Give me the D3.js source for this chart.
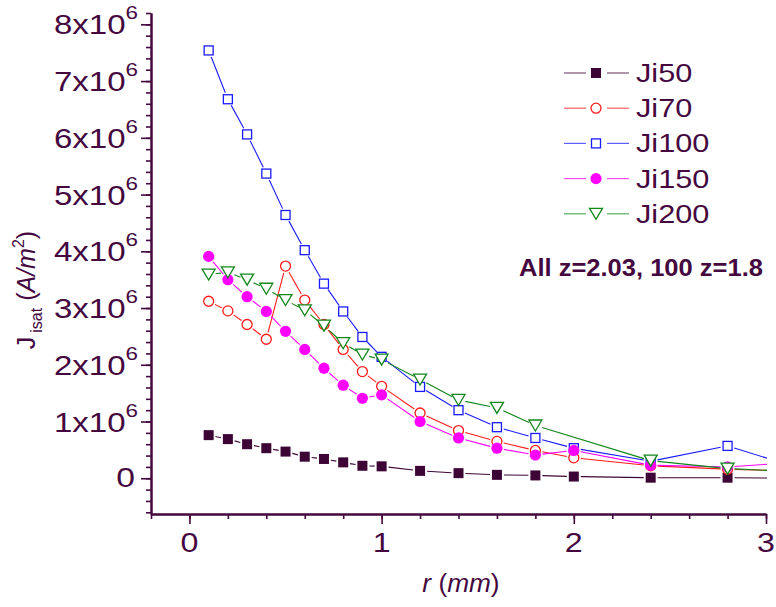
<!DOCTYPE html>
<html><head><meta charset="utf-8">
<script src="https://cdn.jsdelivr.net/npm/d3@7"></script>
<style>
html,body{margin:0;padding:0;background:#fff;}
svg{display:block;}
text{font-family:"Liberation Sans",Arial,sans-serif;fill:#44083f;}
</style></head>
<body>
<script>
// ---- data (J in units of 1e6 A/m^2, r in mm) ----
const rMain = [0.1,0.2,0.3,0.4,0.5,0.6,0.7,0.8,0.9,1.0,1.2,1.4,1.6,1.8,2.0,2.4,2.8,3.2];
const r200  = [0.1,0.2,0.3,0.4,0.5,0.6,0.7,0.8,0.9,1.0,1.2,1.4,1.6,1.8,2.4,2.8,3.2];
const ji50  = [0.76,0.69,0.60,0.53,0.47,0.38,0.34,0.28,0.22,0.21,0.13,0.09,0.06,0.05,0.03,0.01,0.01,0.00];
const ji70  = [3.12,2.95,2.71,2.45,3.74,3.14,2.71,2.27,1.88,1.62,1.15,0.84,0.65,0.49,0.36,0.22,0.16,0.12];
const ji100 = [7.54,6.68,6.06,5.37,4.64,4.02,3.43,2.94,2.49,2.14,1.61,1.20,0.90,0.71,0.53,0.30,0.57,0.15];
const ji150 = [3.91,3.50,3.20,2.94,2.59,2.27,1.94,1.64,1.41,1.47,1.00,0.71,0.53,0.41,0.49,0.23,0.20,0.29];
const ji200 = [3.59,3.63,3.50,3.34,3.14,2.96,2.69,2.38,2.18,2.09,1.74,1.38,1.24,0.93,0.31,0.17,0.11];
const seriesNames = ["Ji50","Ji70","Ji100","Ji150","Ji200"];
const xTickLabels = ["0","1","2","3"];
const yTickMantissa = ["0","1","2","3","4","5","6","7","8"];
const annotation = "All z=2.03, 100 z=1.8";

const series = [
  {name:seriesNames[0], r:rMain, v:ji50,  color:"#3d0536", marker:"sqFill"},
  {name:seriesNames[1], r:rMain, v:ji70,  color:"#ff1a1a", marker:"circOpen"},
  {name:seriesNames[2], r:rMain, v:ji100, color:"#1a1aff", marker:"sqOpen"},
  {name:seriesNames[3], r:rMain, v:ji150, color:"#ff00ff", marker:"circFill"},
  {name:seriesNames[4], r:r200,  v:ji200, color:"#11861a", marker:"triOpen"}
];

const W=776,H=607, AX="#44083f";
const svg=d3.select("body").append("svg").attr("width",W).attr("height",H);
const x=d3.scaleLinear().domain([-0.2,3]).range([151,766]);
const y=d3.scaleLinear().domain([-0.63,8.2]).range([514,13]);

svg.append("clipPath").attr("id","clip").append("rect")
  .attr("x",x.range()[0]).attr("y",0).attr("width",x.range()[1]-x.range()[0]+1).attr("height",y.range()[0]);

function drawMarker(g,m,cx,cy,color){
  if(m==="sqFill"){
    g.append("rect").attr("x",cx-5).attr("y",cy-5).attr("width",10).attr("height",10).attr("fill",color);
  } else if(m==="sqOpen"){
    g.append("rect").attr("x",cx-4.5).attr("y",cy-4.5).attr("width",9).attr("height",9)
      .attr("fill","#fff").attr("stroke",color).attr("stroke-width",1.3);
  } else if(m==="circOpen"){
    g.append("circle").attr("cx",cx).attr("cy",cy).attr("r",5)
      .attr("fill","#fff").attr("stroke",color).attr("stroke-width",1.3);
  } else if(m==="circFill"){
    g.append("circle").attr("cx",cx).attr("cy",cy).attr("r",5.6).attr("fill",color);
  } else if(m==="triOpen"){
    const w=6.5,h=5.5;
    g.append("path").attr("d",`M${cx-w},${cy-h}L${cx+w},${cy-h}L${cx},${cy+h}Z`)
      .attr("fill","#fff").attr("stroke",color).attr("stroke-width",1.3);
  }
}
function drawGapLine(g,pts,color,gap){
  for(let i=0;i<pts.length-1;i++){
    const [x1,y1]=pts[i],[x2,y2]=pts[i+1];
    const dx=x2-x1,dy=y2-y1,L=Math.hypot(dx,dy);
    if(L<=2*gap) continue;
    const ux=dx/L,uy=dy/L;
    g.append("line").attr("x1",x1+ux*gap).attr("y1",y1+uy*gap)
      .attr("x2",x2-ux*gap).attr("y2",y2-uy*gap)
      .attr("stroke",color).attr("stroke-width",1.1);
  }
}

const plot=svg.append("g").attr("clip-path","url(#clip)");
series.forEach(s=>{
  const g=plot.append("g");
  const pts=s.r.map((r,i)=>[x(r),y(s.v[i])]);
  drawGapLine(g,pts,s.color,7);
  pts.forEach(p=>drawMarker(g,s.marker,p[0],p[1],s.color));
});

// ---- axes ----
const y0=y.range()[0], x0=x.range()[0];
const yMinor=d3.range(-6,83,2).map(d=>d/10);
const yMajor=d3.range(0,9);
const xMinor=d3.range(-2,31,2).map(d=>d/10);
const xMajor=[0,1,2,3];

svg.append("g").attr("transform",`translate(${x0},0)`)
  .call(d3.axisLeft(y).tickValues(yMinor).tickSize(5).tickFormat("").tickSizeOuter(0));
svg.append("g").attr("transform",`translate(${x0},0)`)
  .call(d3.axisLeft(y).tickValues(yMajor).tickSize(10).tickFormat("").tickSizeOuter(0));
svg.append("g").attr("transform",`translate(0,${y0})`)
  .call(d3.axisBottom(x).tickValues(xMinor).tickSize(5).tickFormat("").tickSizeOuter(0));
svg.append("g").attr("transform",`translate(0,${y0})`)
  .call(d3.axisBottom(x).tickValues(xMajor).tickSize(10).tickFormat("").tickSizeOuter(0));
svg.selectAll(".domain").attr("stroke",AX).attr("stroke-width",2);
svg.selectAll(".tick line").attr("stroke",AX).attr("stroke-width",1.6);

// horizontally widened text helper (reference glyphs are wider than Arial)
function wtext(px,py,sx){
  return svg.append("g").attr("transform",`translate(${px},${py}) scale(${sx},1)`).append("text");
}

// y tick labels
yMajor.forEach((v,i)=>{
  const ty=y(v);
  if(v===0){
    wtext(135,ty+9,1.2).attr("text-anchor","end").attr("font-size",28).text(yTickMantissa[i]);
  } else {
    const t=wtext(138,ty+10,1.18).attr("text-anchor","end").attr("font-size",28);
    t.append("tspan").text(yTickMantissa[i]+"x10");
    t.append("tspan").attr("dy",-15).attr("font-size",19).text("6");
  }
});
// x tick labels
xMajor.forEach((v,i)=>{
  wtext(x(v),552,1.15).attr("text-anchor","middle").attr("font-size",28).text(xTickLabels[i]);
});
// x title
const xt=wtext(461,592,1.05).attr("text-anchor","middle").attr("font-size",25);
xt.append("tspan").attr("font-style","italic").text("r");
xt.append("tspan").text(" (");
xt.append("tspan").attr("font-style","italic").text("mm");
xt.append("tspan").text(")");
// y title
const yt=svg.append("text").attr("transform","translate(35,290) rotate(-90)").attr("text-anchor","middle").attr("font-size",25);
yt.append("tspan").text("J");
yt.append("tspan").attr("font-size",16).attr("dy",7).attr("dx",4).text("isat");
yt.append("tspan").attr("dy",-7).text(" (");
yt.append("tspan").attr("font-style","italic").text("A/m");
yt.append("tspan").attr("font-size",16).attr("dy",-11).text("2");
yt.append("tspan").attr("dy",11).text(")");

// legend
series.forEach((s,i)=>{
  const ly=73+i*35.2;
  const g=svg.append("g");
  g.append("line").attr("x1",564).attr("x2",586).attr("y1",ly).attr("y2",ly).attr("stroke",s.color).attr("stroke-width",1.2).attr("stroke-opacity",0.7);
  g.append("line").attr("x1",607).attr("x2",629).attr("y1",ly).attr("y2",ly).attr("stroke",s.color).attr("stroke-width",1.2).attr("stroke-opacity",0.7);
  drawMarker(g,s.marker,596,ly,s.color);
  wtext(636,ly+9,1.18).attr("font-size",26).text(s.name);
});
// annotation
wtext(519,276,1.11).attr("font-size",23).attr("font-weight","bold").text(annotation);
</script>
</body></html>
